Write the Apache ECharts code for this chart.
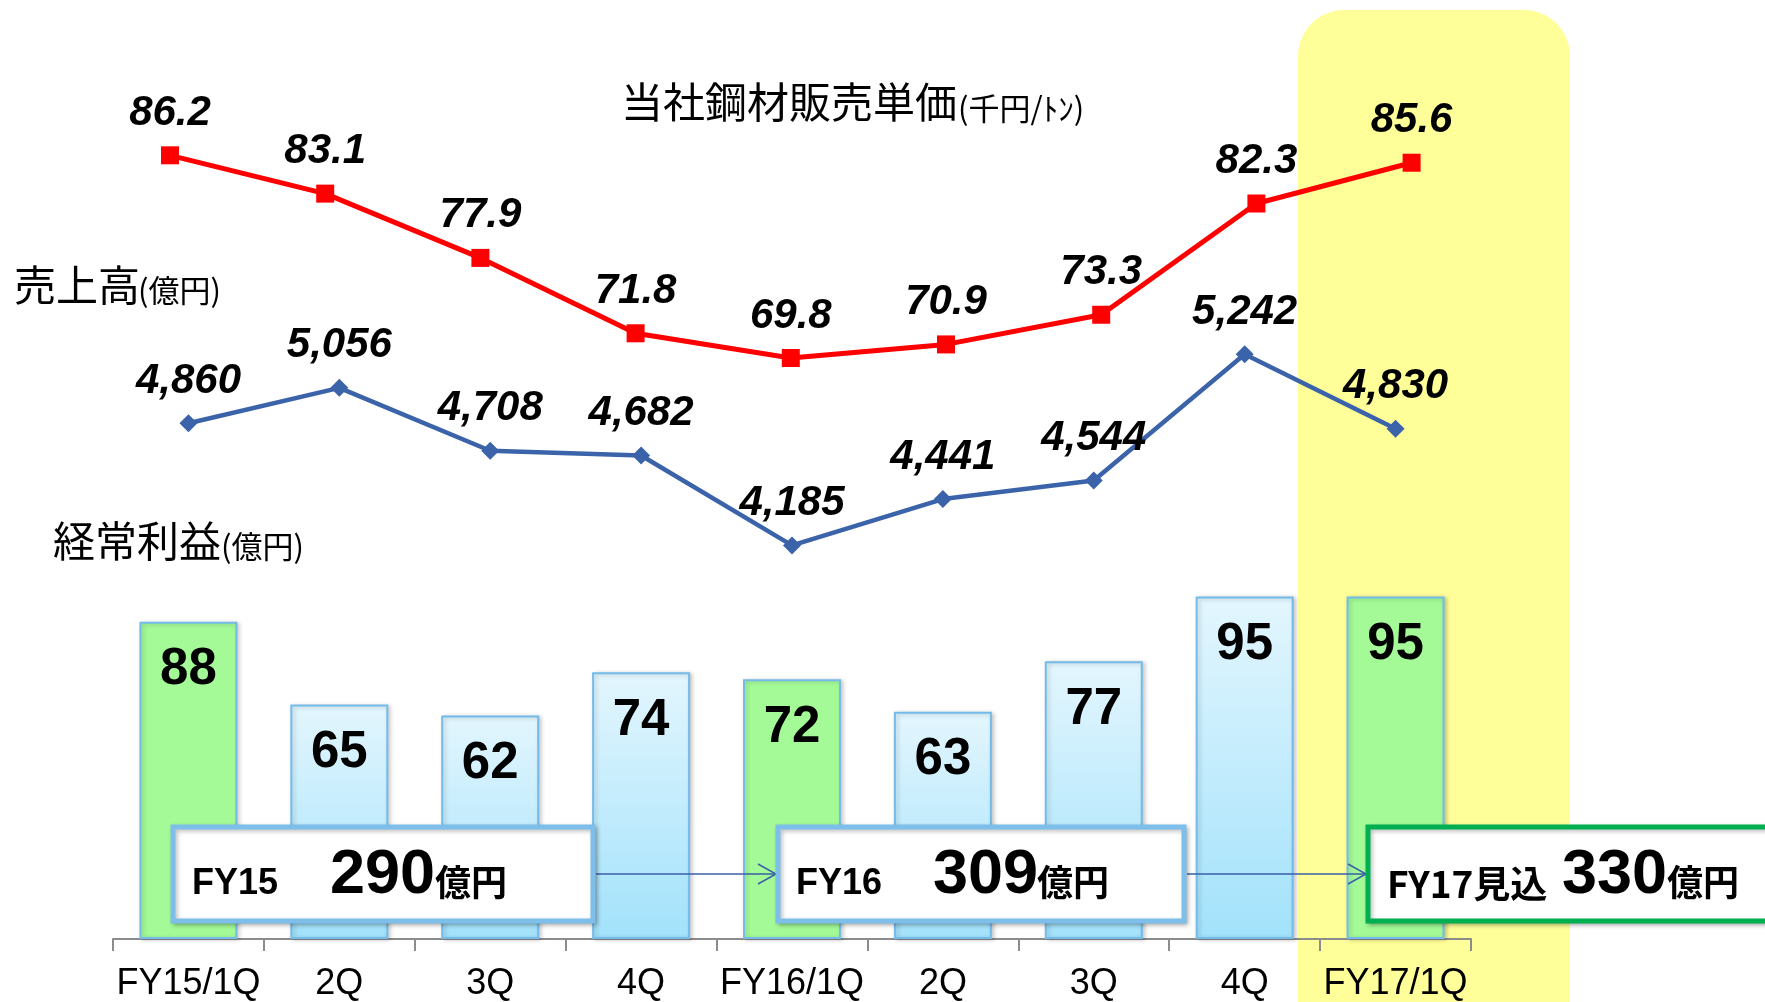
<!DOCTYPE html>
<html>
<head>
<meta charset="utf-8">
<script src="https://cdn.jsdelivr.net/npm/echarts@6/dist/echarts.min.js"></script>
<style>
html,body{margin:0;padding:0;background:#fff;}
#chart{width:1765px;height:1002px;}
</style>
</head>
<body>
<div id="chart"></div>
<script>
// ---- data ----
const categories = ['FY15/1Q','2Q','3Q','4Q','FY16/1Q','2Q','3Q','4Q','FY17/1Q'];
const ordinaryProfit = [88, 65, 62, 74, 72, 63, 77, 95, 95];      // 経常利益 (億円)
const sales = [4860, 5056, 4708, 4682, 4185, 4441, 4544, 5242, 4830]; // 売上高 (億円)
const steelPrice = [86.2, 83.1, 77.9, 71.8, 69.8, 70.9, 73.3, 82.3, 85.6]; // 当社鋼材販売単価 (千円/ﾄﾝ)
const annualLabels = ['FY15', 'FY16', 'FY17見込'];
const annualProfit = [290, 309, 330];
const unitOku = '億円';

const NUM = '"Liberation Sans", Arial, sans-serif';
const JP = '"Noto Sans CJK JP", sans-serif';

const chart = echarts.init(document.getElementById('chart'), null, {renderer: 'canvas'});

const blueGrad = {type:'linear', x:0, y:0, x2:0, y2:1,
  colorStops:[{offset:0, color:'#E3F6FE'}, {offset:1, color:'#A2E2FB'}]};

const barData = ordinaryProfit.map((v, i) => ({
  value: v,
  itemStyle: { color: categories[i].indexOf('/1Q') >= 0 ? '#A4FA97' : blueGrad }
}));

const lineLabel = {
  show: true, position: 'top', distance: 12,
  fontFamily: NUM, fontSize: 42, fontWeight: 'bold', fontStyle: 'italic', color: '#000'
};

// ---- annotation layout (not data) ----
const boxes = [
  {x: 173, y: 827, w: 420, h: 94, stroke: '#7DBFEA', tx: [192, 330, 435]},
  {x: 778, y: 827, w: 406, h: 94, stroke: '#7DBFEA', tx: [796, 933, 1037]},
  {x: 1368, y: 827, w: 430, h: 94, stroke: '#00B050', tx: [1387, 1562, 1667]}
];
const arrows = [[596, 776, 874], [1187, 1366, 874]];

const graphics = [];
// highlight column
graphics.push({type:'rect', z: -10, silent: true,
  shape:{x:1298, y:10, width:272, height:1010, r:[46,46,0,0]},
  style:{fill:'#FFFF99'}});
// axis titles
graphics.push({type:'text', z: 50, style:{x:621, y:102, text:'当社鋼材販売単価', font:'42px ' + JP, fill:'#000', textVerticalAlign:'middle'}});
graphics.push({type:'text', z: 50, style:{x:958, y:108, text:'(千円/ﾄﾝ)', font:'31px ' + JP, fill:'#000', textVerticalAlign:'middle'}});
graphics.push({type:'text', z: 50, style:{x:14, y:285, text:'売上高', font:'42px ' + JP, fill:'#000', textVerticalAlign:'middle'}});
graphics.push({type:'text', z: 50, style:{x:138, y:290, text:'(億円)', font:'31px ' + JP, fill:'#000', textVerticalAlign:'middle'}});
graphics.push({type:'text', z: 50, style:{x:53, y:541, text:'経常利益', font:'42px ' + JP, fill:'#000', textVerticalAlign:'middle'}});
graphics.push({type:'text', z: 50, style:{x:221, y:546, text:'(億円)', font:'31px ' + JP, fill:'#000', textVerticalAlign:'middle'}});

// arrows
arrows.forEach(a => {
  graphics.push({type:'line', z: 90, shape:{x1:a[0], y1:a[2], x2:a[1], y2:a[2]}, style:{stroke:'#3A5FA8', lineWidth:1.5}});
  graphics.push({type:'polyline', z: 90, shape:{points:[[a[1]-18, a[2]-10],[a[1], a[2]],[a[1]-18, a[2]+10]]}, style:{stroke:'#3A5FA8', lineWidth:1.5, fill:null}});
});
// boxes
boxes.forEach((b, i) => {
  graphics.push({type:'rect', z: 100, shape:{x:b.x, y:b.y, width:b.w, height:b.h},
    style:{fill:'#fff', stroke:b.stroke, lineWidth:5, shadowColor:'rgba(0,0,0,0.25)', shadowBlur:4, shadowOffsetX:2, shadowOffsetY:2}});
  graphics.push({type:'text', z: 101, style:{x:b.tx[0], y:884, text:annualLabels[i], font:'bold ' + (i===2 ? '37px ' + JP : '36px ' + NUM), fill:'#000', textVerticalAlign:'middle'}});
  graphics.push({type:'text', z: 101, style:{x:b.tx[1], y:876, text:String(annualProfit[i]), font:'bold 63px ' + NUM, fill:'#000', textVerticalAlign:'middle'}});
  graphics.push({type:'text', z: 101, style:{x:b.tx[2], y:882, text:unitOku, font:'bold 36px ' + JP, fill:'#000', textVerticalAlign:'middle'}});
});

const option = {
  backgroundColor: '#fff',
  animation: false,
  grid: [
    {left: 113, width: 1358, top: 40, height: 900},
    {left: 92.4, width: 1396.8, top: 40, height: 900}
  ],
  xAxis: [
    {type:'category', gridIndex:0, data:categories,
     axisLine:{show:true, lineStyle:{color:'#8C8C8C', width:2}},
     axisTick:{show:true, interval:0, length:12, lineStyle:{color:'#8C8C8C', width:2}},
     axisLabel:{interval:0, margin:27, fontFamily:NUM, fontSize:36, color:'#000'},
     splitLine:{show:false}},
    {type:'category', gridIndex:1, data:categories, show:false}
  ],
  yAxis: [
    {type:'value', gridIndex:0, min:0, max:249.3, show:false, splitLine:{show:false}},
    {type:'value', gridIndex:0, min:2009, max:6979, show:false, splitLine:{show:false}},
    {type:'value', gridIndex:1, min:22.71, max:95.53, show:false, splitLine:{show:false}}
  ],
  series: [
    {type:'bar', xAxisIndex:0, yAxisIndex:0, data:barData, barWidth:98, z:2,
     itemStyle:{borderColor:'#74BBE9', borderWidth:2, shadowColor:'rgba(0,0,0,0.2)', shadowBlur:4, shadowOffsetX:2, shadowOffsetY:1},
     label:{show:true, position:'insideTop', distance:23, fontFamily:NUM, fontSize:51, fontWeight:'bold', color:'#000'}},
    {type:'line', xAxisIndex:0, yAxisIndex:1, data:sales, z:5,
     symbol:'diamond', symbolSize:18,
     lineStyle:{color:'#3B63A9', width:4.5}, itemStyle:{color:'#3B63A9'},
     label:Object.assign({}, lineLabel, {formatter: p => p.value.toLocaleString('en-US')})},
    {type:'line', xAxisIndex:1, yAxisIndex:2, data:steelPrice, z:5,
     symbol:'rect', symbolSize:18,
     lineStyle:{color:'#FF0000', width:5}, itemStyle:{color:'#FF0000'},
     label:Object.assign({}, lineLabel, {formatter: p => p.value.toFixed(1)})}
  ],
  graphic: {elements: graphics}
};
chart.setOption(option);
</script>
</body>
</html>
